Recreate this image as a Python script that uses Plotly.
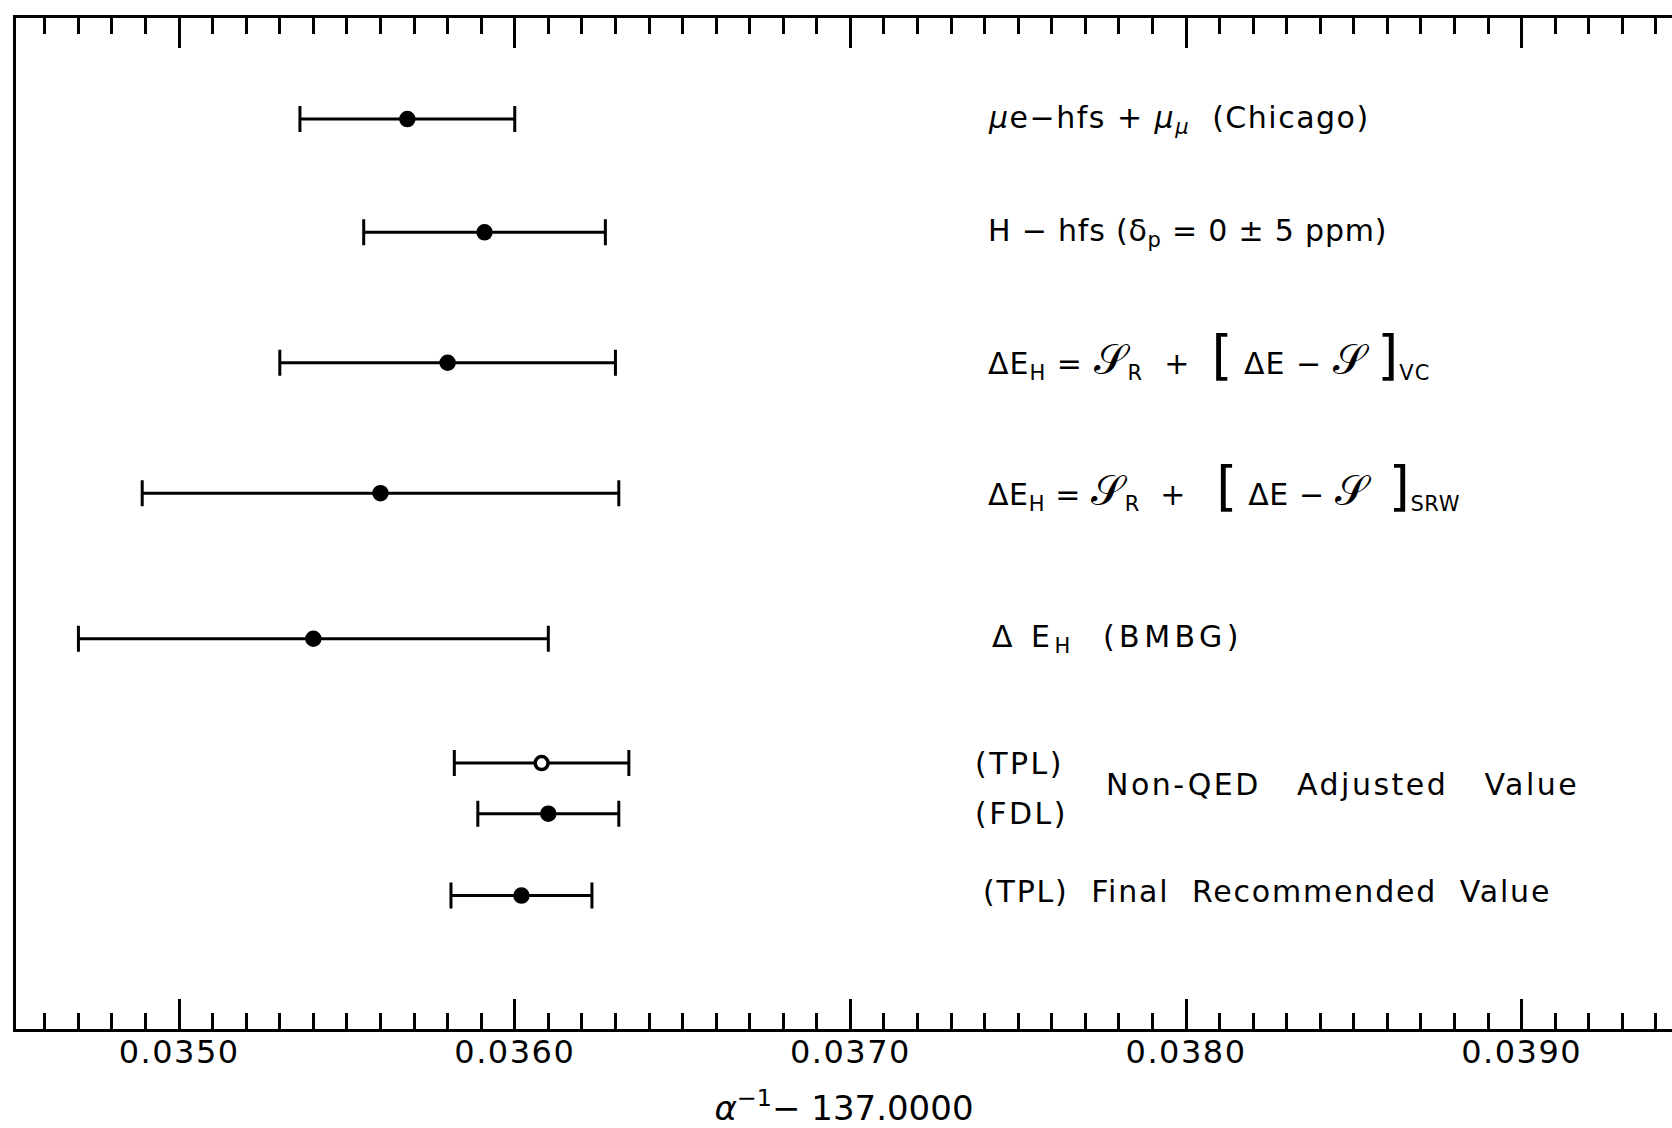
import plotly.graph_objects as go

# ---- data (alpha^-1 - 137.0000) ----
measurements = [
    "mu e-hfs + mu_mu (Chicago)",
    "H-hfs (delta_p = 0 +- 5 ppm)",
    "Delta E_H = S_R + [Delta E - S]_VC",
    "Delta E_H = S_R + [Delta E - S]_SRW",
    "Delta E_H (BMBG)",
    "(TPL) Non-QED Adjusted Value",
    "(FDL) Non-QED Adjusted Value",
    "(TPL) Final Recommended Value",
]
values = [0.03568, 0.03591, 0.03580, 0.03560, 0.03540, 0.03608, 0.03610, 0.03602]
errors = [0.00032, 0.00036, 0.00050, 0.00071, 0.00070, 0.00026, 0.00021, 0.00021]
row_pos = [9.00, 7.88, 6.59, 5.30, 3.86, 2.63, 2.13, 1.32]
open_marker = [False, False, False, False, False, True, False, False]
tick_values = [0.0350, 0.0360, 0.0370, 0.0380, 0.0390]
tick_labels = ["0.0350", "0.0360", "0.0370", "0.0380", "0.0390"]

FONT = "DejaVu Sans"
SP = "\u00a0"
S = '<span style="font-size:42px">𝒮</span>'
LB = '<span style="font-size:54px">[</span>'
RB = '<span style="font-size:54px">]</span>'


def ls(t, px=2.5):
    return f'<span style="letter-spacing:{px}px">{t}</span>'


fig = go.Figure()

for v, e, y, op in zip(values, errors, row_pos, open_marker):
    fig.add_trace(go.Scatter(
        x=[v], y=[y], mode="markers",
        error_x=dict(type="data", array=[e], symmetric=True,
                     color="black", thickness=3, width=13),
        marker=dict(size=13, color="white" if op else "black",
                    line=dict(color="black", width=3.5)),
        showlegend=False, hoverinfo="skip",
    ))

labels = [
    (0.037404, 9.00, 0, ls(f"<i>μ</i>e−hfs + <i>μ</i><sub><i>μ</i></sub>{SP}{SP}(Chicago)", 1.5)),
    (0.037404, 7.88, 0, ls(f"H − hfs (δ<sub>p</sub> = 0 ± 5 ppm)", 0.8)),
    (0.037404, 6.59, 7, ls(f"ΔE<sub>H</sub> = {S}<sub>R</sub>{SP}{SP}+{SP}{SP}{LB}{SP}ΔE − {S}{SP}{RB}<sub>VC</sub>", 1)),
    (0.037404, 5.30, 7, ls(f"ΔE<sub>H</sub> = {S}<sub>R</sub>{SP}{SP}+{SP}{SP}{SP}{LB}{SP}ΔE − {S}{SP}{SP}{RB}<sub>SRW</sub>", 0.6)),
    (0.037415, 3.86, 0, ls(f"Δ E<sub>H</sub>{SP}{SP}(BMBG)", 4.5)),
    (0.037366, 2.63, 0, ls("(TPL)")),
    (0.037366, 2.13, 0, ls("(FDL)")),
    (0.037756, 2.42, 0, ls(f"Non-QED{SP}{SP}{SP}Adjusted{SP}{SP}{SP}Value", 2.5)),
    (0.037389, 1.36, 0, ls(f"(TPL){SP}{SP}Final{SP}{SP}Recommended{SP}{SP}Value", 1.8)),
]
for x, y, dy, t in labels:
    fig.add_annotation(x=x, y=y, xref="x", yref="y", text=t, showarrow=False,
                       xanchor="left", yanchor="middle", yshift=dy,
                       font=dict(family=FONT, size=30, color="black"))

fig.update_xaxes(
    range=[0.034514, 0.039448],
    tickmode="array", tickvals=tick_values,
    ticktext=[ls(t, 1.5) for t in tick_labels],
    ticks="inside", ticklen=30, tickwidth=3, tickcolor="black",
    minor=dict(tick0=0.0345, dtick=0.0001, ticks="inside", ticklen=16,
               tickwidth=3, tickcolor="black", showgrid=False),
    showline=True, linewidth=3, linecolor="black", mirror="ticks",
    showgrid=False, zeroline=False,
    ticklabelstandoff=-7,
    tickfont=dict(family=FONT, size=32, color="black"),
    title=dict(text="<i>α</i><sup>−1</sup>− 137.0000",
               font=dict(family=FONT, size=34, color="black"), standoff=27),
)
fig.update_yaxes(
    range=[0, 10], showline=True, linewidth=3, linecolor="black", mirror=False,
    showticklabels=False, ticks="", showgrid=False, zeroline=False,
)

fig.update_layout(
    width=1672, height=1128,
    margin=dict(l=16, r=0, t=18, b=99),
    paper_bgcolor="white", plot_bgcolor="white",
)

fig.write_html("out.html", config={"displayModeBar": False},
               post_script="document.body.style.margin='0';document.body.style.overflow='hidden';")
